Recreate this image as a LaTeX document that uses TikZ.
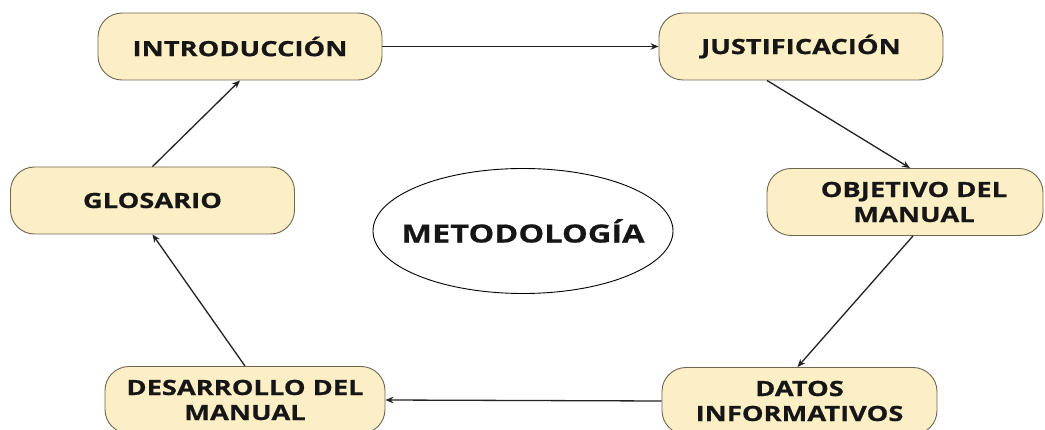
\documentclass[tikz,border=0pt]{standalone}
\usepackage{fontspec}
\usetikzlibrary{shapes.geometric,arrows.meta}
\newfontfamily\boxfont{Open Sans}[FakeStretch=1.3,BoldFeatures={FakeBold=0.6}]
\definecolor{boxfill}{HTML}{FCEFC6}
\definecolor{boxline}{HTML}{6E6652}
\definecolor{txt}{HTML}{161616}
\definecolor{arr}{HTML}{222222}
\tikzset{
  topic/.style={draw=boxline, line width=0.9pt, fill=boxfill, rounded corners=24pt,
    minimum width=284pt, minimum height=67pt, inner sep=0pt, align=center,
    text=txt, font=\boxfont\bfseries\fontsize{21}{25}\selectfont},
  center/.style={draw=black, line width=0.9pt, ellipse, minimum width=300pt,
    minimum height=125pt, inner xsep=-25pt, inner ysep=0pt, text=txt,
    font=\boxfont\bfseries\fontsize{25}{30}\selectfont},
  link/.style={draw=arr, line width=1.3pt, -{Stealth[length=8pt,width=6.5pt]}}
}
\begin{document}
\begin{tikzpicture}[x=1pt,y=-1pt]
\clip (0,0) rectangle (1045,430);
\fill[white] (0,0) rectangle (1045,430);
\node[topic] (intro) at (240,46.5) {INTRODUCCIÓN};
\node[topic] (justif) at (801,46.5) {JUSTIFICACIÓN};
\node[topic] (glos) at (152.5,200.5) {GLOSARIO};
\node[topic, minimum width=276pt] (obj) at (905,202) {\hspace*{18pt}OBJETIVO DEL\\\hspace*{18pt}MANUAL};
\node[topic, minimum width=280pt] (des) at (245,400) {DESARROLLO DEL\\MANUAL};
\node[topic, minimum width=275pt] (datos) at (799.5,401) {DATOS\\INFORMATIVOS};
\node[center] (met) at (523,231) {METODOLOGÍA};
\draw[link] (intro.east) -- (justif.west);
\draw[link] ([xshift=-34pt]justif.south) -- ([xshift=5pt]obj.north);
\draw[link] ([xshift=8pt]obj.south) -- ([xshift=-2pt]datos.north);
\draw[link] (datos.west) -- (des.east);
\draw[link] (des.north) -- (glos.south);
\draw[link] (glos.north) -- (intro.south);
\end{tikzpicture}
\end{document}
